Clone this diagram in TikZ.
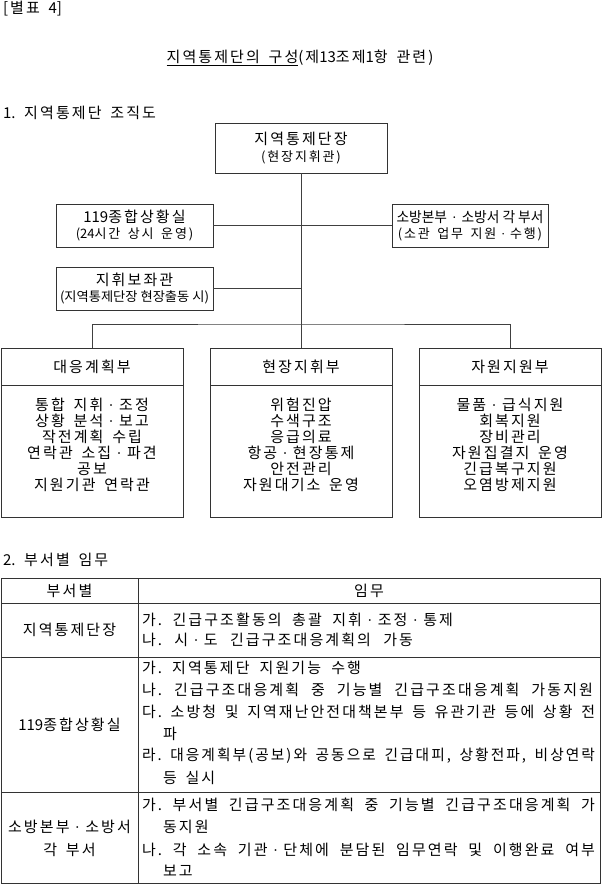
\documentclass[tikz,border=0pt]{standalone}
\usepackage{fontspec}
\usepackage{graphicx}
\newfontfamily\kr[LetterSpace=14,WordSpace=1.6]{Noto Sans CJK KR}
\newfontfamily\krt{Noto Sans CJK KR}
\newfontfamily\lat{Liberation Serif}
\newcommand{\fA}{\kr\fontsize{15}{18}\selectfont}
\newcommand{\fB}{\kr\fontsize{13}{18}\selectfont}
\newcommand{\md}{\hskip 0.36em{\lat ·}\hskip 0.36em\relax}
\newcommand{\dg}[1]{{\krt #1}}
\newsavebox\lnbox
\newcommand{\fitline}[2]{\sbox\lnbox{#2}%
  \ifdim\wd\lnbox>#1pt\relax\resizebox{#1pt}{\height}{\usebox\lnbox}%
  \else\makebox[#1pt][s]{#2}\fi}
\newcommand{\fitw}[2]{\resizebox{#1pt}{\height}{#2}}
\begin{document}
\frenchspacing
\begin{tikzpicture}[x=1pt,y=-1pt,
  frame/.style={draw=black!80, line width=0.8pt, rectangle, inner sep=0pt, outer sep=0pt, align=center, font=\fA},
  txt/.style={inner sep=0pt, outer sep=0pt, font=\fA},
  lt/.style={txt, anchor=west},
  link/.style={draw=black!75, line width=0.8pt}]
\useasboundingbox (0,0) rectangle (602,884);
\fill[white] (0,0) rectangle (602,884);

% headings
\node[lt] (tag) at (3,9) {[별표 \dg{4}]};
\node[txt] (title) at (300,58) {\underline{지역통제단의 구성}(제\dg{13}조제\dg{1}항 관련)};
\node[lt] (sec1) at (3,113) {\dg{1}. 지역통제단 조직도};

% org chart
\node[frame, minimum width=172, minimum height=50] (top) at (301,148)
  {지역통제단장\\[-1pt]{\fB (현장지휘관)}};
\node[frame, minimum width=157, minimum height=43] (c119) at (134.5,225.5)
  {\dg{119}종합상황실\\[-2pt]{\fB (\dg{24}시간 상시 운영)}};
\node[frame, minimum width=156, minimum height=43] (cfire) at (470,225.5)
  {{\krt\fontsize{14.5}{18}\selectfont\fitw{147}{소방본부\md 소방서 각 부서}}\\[-2pt]{\fB (소관 업무 지원\md 수행)}};
\node[frame, minimum width=157, minimum height=43] (assist) at (134.5,288.5)
  {지휘보좌관\\[-2pt]{\krt\fontsize{13}{18}\selectfont\fitw{149}{(지역통제단장 현장출동 시)}}};

\node[frame, minimum width=182, minimum height=37] (p1h) at (92,366.5) {대응계획부};
\node[frame, minimum width=182, minimum height=132] (p1b) at (92,451) {};
\node[txt, align=center, font=\kr\fontsize{15}{16}\selectfont] (p1t) at (92,445)
  {통합 지휘\md 조정\\상황 분석\md 보고\\작전계획 수립\\연락관 소집\md 파견\\공보\\지원기관 연락관};

\node[frame, minimum width=182, minimum height=37] (p2h) at (301,366.5) {현장지휘부};
\node[frame, minimum width=182, minimum height=132] (p2b) at (301,451) {};
\node[txt, align=center, font=\kr\fontsize{15}{16}\selectfont] (p2t) at (301,445)
  {위험진압\\수색구조\\응급의료\\항공\md 현장통제\\안전관리\\자원대기소 운영};

\node[frame, minimum width=182, minimum height=37] (p3h) at (510,366.5) {자원지원부};
\node[frame, minimum width=182, minimum height=132] (p3b) at (510,451) {};
\node[txt, align=center, font=\kr\fontsize{15}{16}\selectfont] (p3t) at (510,445)
  {물품\md 급식지원\\회복지원\\장비관리\\자원집결지 운영\\긴급복구지원\\오염방제지원};

\coordinate (bar) at (301,324);
\draw[link] (top.south) -- (p2h.north);
\draw[link] (c119.east) -- (cfire.west);
\draw[link] (assist.east) -- (assist.east -| top.south);
\draw[link] (p1h.north) |- (bar) -| (p3h.north);

% section 2
\node[lt] (sec2) at (3,560) {\dg{2}. 부서별 임무};

\node[frame, minimum width=137, minimum height=25] (th1) at (69.5,590.5) {부서별};
\node[frame, minimum width=462, minimum height=25] (th2) at (369,590.5) {임무};
\node[frame, minimum width=137, minimum height=54] (r1a) at (69.5,630) {지역통제단장};
\node[frame, minimum width=462, minimum height=54] (r1b) at (369,630) {};
\node[frame, minimum width=137, minimum height=135] (r2a) at (69.5,724.5) {\dg{119}종합상황실};
\node[frame, minimum width=462, minimum height=135] (r2b) at (369,724.5) {};
\node[frame, minimum width=137, minimum height=91] (r3a) at (69.5,837.5) {};
\node[frame, minimum width=462, minimum height=91] (r3b) at (369,837.5) {};
\node[txt, align=center, font=\kr\fontsize{15}{23}\selectfont] (r3l) at (69.5,838.5) {소방본부\md 소방서\\각 부서};

\node[lt] (a1) at (142,620) {\fitline{311}{가. 긴급구조활동의 총괄 지휘\md 조정\md 통제}};
\node[lt] (a2) at (142,640) {\fitline{271}{나. 시\md 도 긴급구조대응계획의 가동}};

\node[lt] (b1) at (142,668) {\fitline{219}{가. 지역통제단 지원기능 수행}};
\node[lt] (b2) at (142,690) {\fitline{451}{나. 긴급구조대응계획 중 기능별 긴급구조대응계획 가동지원}};
\node[lt] (b3) at (142,712) {\fitline{453}{다. 소방청 및 지역재난안전대책본부 등 유관기관 등에 상황 전}};
\node[lt] (b4) at (163,734) {파};
\node[lt] (b5) at (142,756) {\fitline{453}{라. 대응계획부(공보)와 공동으로 긴급대피, 상황전파, 비상연락}};
\node[lt] (b6) at (163,778) {등 실시};

\node[lt] (d1) at (142,805) {\fitline{453}{가. 부서별 긴급구조대응계획 중 기능별 긴급구조대응계획 가}};
\node[lt] (d2) at (163,827) {동지원};
\node[lt] (d3) at (142,850) {\fitline{453}{나. 각 소속 기관\md 단체에 분담된 임무연락 및 이행완료 여부}};
\node[lt] (d4) at (163,871) {보고};
\end{tikzpicture}
\end{document}
